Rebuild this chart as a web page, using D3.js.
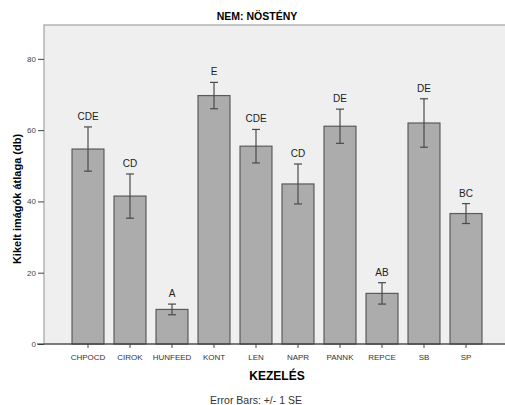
<!DOCTYPE html>
<html>
<head>
<meta charset="utf-8">
<script src="https://cdn.jsdelivr.net/npm/d3@7"></script>
<style>
    body { margin: 0; background: #fff; }
    #chart { width: 505px; height: 405px; }
    text { font-family: "Liberation Sans", Arial, sans-serif; }
</style>
</head>
<body>
<div id="chart"></div>
<script>

// data
const categories = ["CHPOCD", "CIROK", "HUNFEED", "KONT", "LEN", "NAPR", "PANNK", "REPCE", "SB", "SP"];
const means      = [54.7, 41.5, 9.7, 69.7, 55.5, 44.9, 61.1, 14.2, 62.0, 36.6];
const stdErrs    = [6.2, 6.2, 1.5, 3.7, 4.7, 5.6, 4.8, 3.0, 6.8, 2.8];
const groups     = ["CDE", "CD", "A", "E", "CDE", "CD", "DE", "AB", "DE", "BC"];
const yTicks     = [0, 20, 40, 60, 80];

class BarChart {

    constructor(parentElement) {
        this._parentElement = parentElement;
        this.initVis();
    }

    initVis() {
        let vis = this;

        vis.svg = d3.select("#" + vis._parentElement).append("svg")
            .attr("width", 505)
            .attr("height", 405);

        // plot area
        vis.plot = {left: 44, top: 25, right: 506, bottom: 344};

        vis.svg.append("rect")
            .attr("x", vis.plot.left)
            .attr("y", vis.plot.top)
            .attr("width", vis.plot.right - vis.plot.left)
            .attr("height", vis.plot.bottom - vis.plot.top)
            .attr("fill", "#efefef")
            .attr("stroke", "#b4b4b4")
            .attr("stroke-width", 1.5);

        vis.x = d3.scaleBand()
            .domain(categories)
            .range([67, 487])
            .paddingInner(0.24)
            .paddingOuter(0.12);

        vis.y = d3.scaleLinear()
            .domain([0, 89.5])
            .range([vis.plot.bottom, vis.plot.top]);

        vis.updateVis();
    }

    updateVis() {
        let vis = this;
        let data = categories.map((c, i) => ({cat: c, mean: means[i], se: stdErrs[i], grp: groups[i]}));

        // bars
        vis.svg.selectAll(".bar")
            .data(data)
            .join("rect")
            .attr("class", "bar")
            .attr("x", d => vis.x(d.cat))
            .attr("y", d => vis.y(d.mean))
            .attr("width", vis.x.bandwidth())
            .attr("height", d => vis.y(0) - vis.y(d.mean))
            .attr("fill", "#acacac")
            .attr("stroke", "#5a5a5a")
            .attr("stroke-width", 1.2);

        // error bars
        let eb = vis.svg.selectAll(".err")
            .data(data)
            .join("g")
            .attr("class", "err")
            .attr("stroke", "#4a4a4a")
            .attr("stroke-width", 1.2);
        let cx = d => vis.x(d.cat) + vis.x.bandwidth() / 2;
        eb.append("line")
            .attr("x1", cx).attr("x2", cx)
            .attr("y1", d => vis.y(d.mean + d.se))
            .attr("y2", d => vis.y(d.mean - d.se));
        eb.append("line")
            .attr("x1", d => cx(d) - 4).attr("x2", d => cx(d) + 4)
            .attr("y1", d => vis.y(d.mean + d.se))
            .attr("y2", d => vis.y(d.mean + d.se));
        eb.append("line")
            .attr("x1", d => cx(d) - 4).attr("x2", d => cx(d) + 4)
            .attr("y1", d => vis.y(d.mean - d.se))
            .attr("y2", d => vis.y(d.mean - d.se));

        // group letters
        vis.svg.selectAll(".grp")
            .data(data)
            .join("text")
            .attr("class", "grp")
            .attr("x", cx)
            .attr("y", d => vis.y(d.mean + d.se) - 7)
            .attr("text-anchor", "middle")
            .attr("font-size", 10)
            .attr("fill", "#222")
            .text(d => d.grp);

        // axes
        let yAxis = d3.axisLeft(vis.y).tickValues(yTicks).tickSize(6).tickPadding(2);
        let ga = vis.svg.append("g")
            .attr("transform", "translate(" + vis.plot.left + ",0)")
            .call(yAxis);
        ga.select(".domain").remove();
        ga.selectAll("line").attr("stroke", "#444");
        ga.selectAll("text").attr("font-size", 8).attr("fill", "#444")
            .attr("font-family", "'Liberation Sans', Arial, sans-serif");

        let xAxis = d3.axisBottom(vis.x).tickSize(4).tickPadding(6);
        let gx = vis.svg.append("g")
            .attr("transform", "translate(0," + vis.plot.bottom + ")")
            .call(xAxis);
        gx.select(".domain").remove();
        gx.selectAll("line").attr("stroke", "#444");
        gx.selectAll("text").attr("font-size", 8).attr("fill", "#333")
            .attr("font-family", "'Liberation Sans', Arial, sans-serif");

        vis.svg.append("line")
            .attr("x1", 37).attr("x2", 506)
            .attr("y1", vis.plot.bottom).attr("y2", vis.plot.bottom)
            .attr("stroke", "#333").attr("stroke-width", 1.2);

        // titles
        vis.svg.append("text")
            .attr("x", 257).attr("y", 20)
            .attr("text-anchor", "middle")
            .attr("font-size", 10.5).attr("font-weight", "bold")
            .text("NEM: NÖSTÉNY");

        vis.svg.append("text")
            .attr("transform", "translate(21,199) rotate(-90)")
            .attr("text-anchor", "middle")
            .attr("font-size", 11).attr("font-weight", "bold")
            .text("Kikelt imágók átlaga (db)");

        vis.svg.append("text")
            .attr("x", 277).attr("y", 380)
            .attr("text-anchor", "middle")
            .attr("font-size", 12).attr("font-weight", "bold")
            .text("KEZELÉS");

        vis.svg.append("text")
            .attr("x", 256).attr("y", 404)
            .attr("text-anchor", "middle")
            .attr("font-size", 10.5).attr("fill", "#333")
            .text("Error Bars: +/- 1 SE");
    }
}

new BarChart("chart");
</script>
</body>
</html>
